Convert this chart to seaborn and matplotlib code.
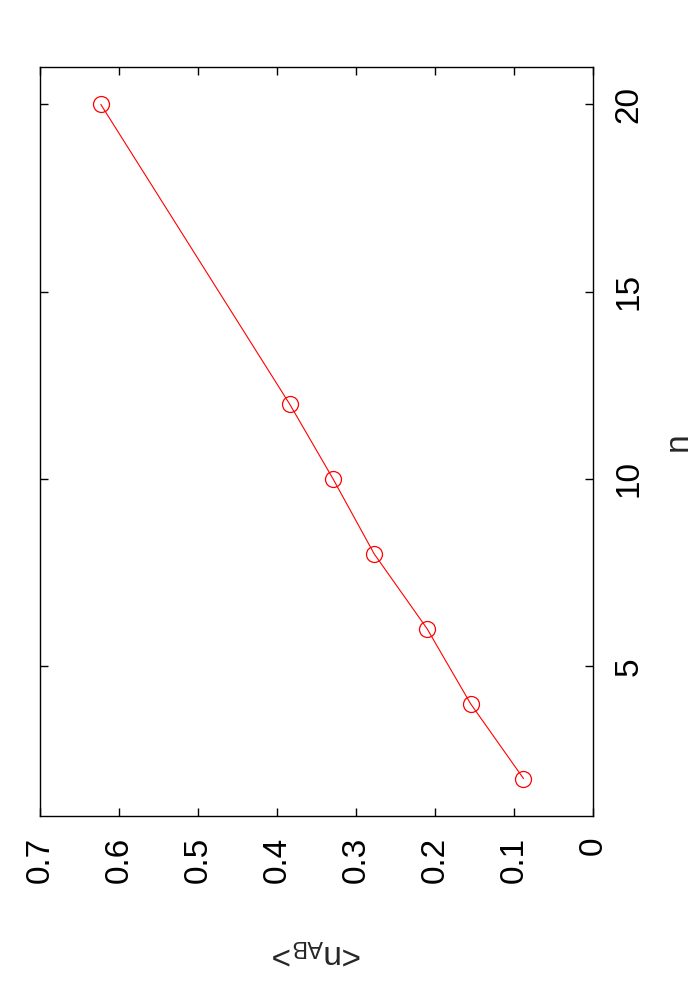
import matplotlib
matplotlib.use("Agg")
import matplotlib.pyplot as plt
import seaborn as sns
import pandas as pd

# Data
n_values = [2, 4, 6, 8, 10, 12, 20]
nab_values = [0.088, 0.155, 0.210, 0.277, 0.329, 0.384, 0.623]

x_ticks = [0, 0.1, 0.2, 0.3, 0.4, 0.5, 0.6, 0.7]
x_ticklabels = ["0", "0.1", "0.2", "0.3", "0.4", "0.5", "0.6", "0.7"]
y_ticks = [5, 10, 15, 20]
y_ticklabels = ["5", "10", "15", "20"]

sns.set_style("ticks")
plt.rcParams["font.family"] = ["Liberation Sans", "DejaVu Sans"]
plt.rcParams["mathtext.fontset"] = "custom"
plt.rcParams["mathtext.rm"] = "Liberation Sans"
plt.rcParams["mathtext.it"] = "Liberation Sans"
plt.rcParams["mathtext.bf"] = "Liberation Sans:bold"

df = pd.DataFrame({"nab": nab_values, "n": n_values})

fig = plt.figure(figsize=(7, 10), dpi=100)
ax = fig.add_axes([40 / 700, 184 / 1000, 553 / 700, 749 / 1000])

sns.lineplot(data=df, x="nab", y="n", sort=False, ax=ax, color="#ff0000",
             linewidth=0.8, marker="o", markersize=11.5,
             markerfacecolor="none", markeredgecolor="#ff0000",
             markeredgewidth=0.9)

ax.set_xlim(0.7, 0.0)
ax.set_ylim(1, 21)

ax.set_xticks(x_ticks)
ax.set_xticklabels(x_ticklabels, rotation=90, fontsize=24)
ax.set_yticks(y_ticks)
ax.set_yticklabels(y_ticklabels, rotation=90, va="center", fontsize=24)

ax.tick_params(axis="both", which="both", direction="in", length=6, width=1.0,
               top=True, bottom=True, left=True, right=True,
               labelbottom=True, labeltop=False, labelleft=False, labelright=True,
               pad=15, colors="black")

for s in ax.spines.values():
    s.set_visible(True)
    s.set_linewidth(1.0)
    s.set_color("black")

ax.set_xlabel(r"<$\mathrm{n}_{\mathrm{AB}}$>", fontsize=24, rotation=180,
              ha="center", va="center")
ax.xaxis.set_label_coords(0.5, -0.182)
ax.yaxis.set_label_position("right")
ax.set_ylabel("n", fontsize=24, rotation=90, ha="center", va="center")
ax.yaxis.set_label_coords(1.155, 0.5)

ax.grid(False)
fig.savefig("out.png", dpi=100, facecolor="white")
